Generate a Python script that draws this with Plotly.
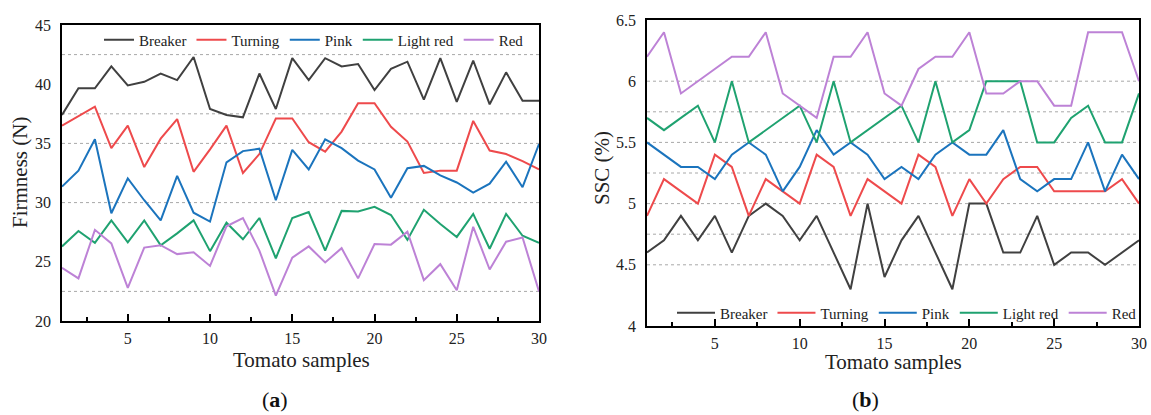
import plotly.graph_objects as go

samples = list(range(1, 31))
series_names = ["Breaker", "Turning", "Pink", "Light red", "Red"]
series_colors = ["#404040", "#ee4a4c", "#1b74bd", "#1fa270", "#bd82d6"]

firm_breaker = [37.4, 39.65, 39.65, 41.5, 39.9, 40.2, 40.9, 40.35, 42.3, 37.9,
                37.4, 37.2, 40.9, 37.9, 42.2, 40.35, 42.2, 41.5, 41.7, 39.5,
                41.3, 41.9, 38.7, 42.2, 38.5, 42.0, 38.3, 41.0, 38.6, 38.6]
firm_turning = [36.5, 37.3, 38.1, 34.6, 36.5, 33.0, 35.4, 37.05, 32.6, 34.5,
                36.5, 32.5, 34.1, 37.1, 37.1, 35.1, 34.3, 36.0, 38.4, 38.4,
                36.4, 35.15, 32.5, 32.7, 32.7, 36.9, 34.4, 34.1, 33.5, 32.8]
firm_pink = [31.35, 32.7, 35.35, 29.1, 32.05, 30.2, 28.5, 32.25, 29.15, 28.4,
             33.4, 34.35, 34.55, 30.2, 34.45, 32.8, 35.35, 34.6, 33.55, 32.8,
             30.4, 32.9, 33.1, 32.3, 31.7, 30.85, 31.6, 33.45, 31.3, 34.95]
firm_lightred = [26.3, 27.6, 26.6, 28.5, 26.65, 28.5, 26.4, 27.4, 28.5, 25.9,
                 28.3, 26.9, 28.7, 25.3, 28.7, 29.2, 25.95, 29.3, 29.25, 29.65,
                 28.95, 26.85, 29.4, 28.2, 27.1, 29.05, 26.1, 29.05, 27.2, 26.6]
firm_red = [24.5, 23.6, 27.7, 26.55, 22.8, 26.2, 26.4, 25.65, 25.8, 24.65,
            28.0, 28.7, 25.95, 22.15, 25.35, 26.3, 24.95, 26.15, 23.6, 26.5,
            26.45, 27.55, 23.45, 24.8, 22.6, 27.95, 24.35, 26.7, 27.05, 22.5]

ssc_breaker = [4.6, 4.7, 4.9, 4.7, 4.9, 4.6, 4.9, 5.0, 4.9, 4.7,
               4.9, 4.6, 4.3, 5.0, 4.4, 4.7, 4.9, 4.6, 4.3, 5.0,
               5.0, 4.6, 4.6, 4.9, 4.5, 4.6, 4.6, 4.5, 4.6, 4.7]
ssc_turning = [4.9, 5.2, 5.1, 5.0, 5.4, 5.3, 4.9, 5.2, 5.1, 5.0,
               5.4, 5.3, 4.9, 5.2, 5.1, 5.0, 5.4, 5.3, 4.9, 5.2,
               5.0, 5.2, 5.3, 5.3, 5.1, 5.1, 5.1, 5.1, 5.2, 5.0]
ssc_pink = [5.5, 5.4, 5.3, 5.3, 5.2, 5.4, 5.5, 5.4, 5.1, 5.3,
            5.6, 5.4, 5.5, 5.4, 5.2, 5.3, 5.2, 5.4, 5.5, 5.4,
            5.4, 5.6, 5.2, 5.1, 5.2, 5.2, 5.5, 5.1, 5.4, 5.2]
ssc_lightred = [5.7, 5.6, 5.7, 5.8, 5.5, 6.0, 5.5, 5.6, 5.7, 5.8,
                5.5, 6.0, 5.5, 5.6, 5.7, 5.8, 5.5, 6.0, 5.5, 5.6,
                6.0, 6.0, 6.0, 5.5, 5.5, 5.7, 5.8, 5.5, 5.5, 5.9]
ssc_red = [6.2, 6.4, 5.9, 6.0, 6.1, 6.2, 6.2, 6.4, 5.9, 5.8,
           5.7, 6.2, 6.2, 6.4, 5.9, 5.8, 6.1, 6.2, 6.2, 6.4,
           5.9, 5.9, 6.0, 6.0, 5.8, 5.8, 6.4, 6.4, 6.4, 6.0]

firm_series = [firm_breaker, firm_turning, firm_pink, firm_lightred, firm_red]
ssc_series = [ssc_breaker, ssc_turning, ssc_pink, ssc_lightred, ssc_red]

firm_grid = [22.5, 30, 35, 37.5, 42.5]
ssc_grid = [4.5, 4.75, 5.0, 5.25, 5.5, 5.75, 6.0]

FONT = "Liberation Serif"

fig = go.Figure()
for name, color, yl, yr in zip(series_names, series_colors, firm_series, ssc_series):
    fig.add_trace(go.Scatter(x=samples, y=yl, mode="lines", name=name,
                             line=dict(color=color, width=2),
                             xaxis="x", yaxis="y", legend="legend"))
    fig.add_trace(go.Scatter(x=samples, y=yr, mode="lines", name=name,
                             line=dict(color=color, width=2),
                             xaxis="x2", yaxis="y2", legend="legend2"))

shapes = []
for g in firm_grid:
    shapes.append(dict(type="line", xref="x domain", yref="y", x0=0, x1=1, y0=g, y1=g,
                       line=dict(color="#a8a8a8", width=1, dash="dot"), layer="below"))
for g in ssc_grid:
    shapes.append(dict(type="line", xref="x2 domain", yref="y2", x0=0, x1=1, y0=g, y1=g,
                       line=dict(color="#a8a8a8", width=1, dash="dot"), layer="below"))

W, H = 1151, 415

def xaxis_cfg(domain, anchor):
    return dict(domain=domain, range=[1, 30], tickmode="linear", tick0=0, dtick=5,
                anchor=anchor, automargin=False,
                showline=True, linecolor="black", linewidth=1.5, mirror=True,
                ticks="inside", ticklen=7, tickwidth=1.5, tickcolor="black",
                minor=dict(ticks="inside", dtick=2.5, tick0=0, ticklen=4, tickwidth=1.5, tickcolor="black"),
                showgrid=False, zeroline=False,
                tickfont=dict(family=FONT, size=16, color="#222"), ticklabelstandoff=2)

def yaxis_cfg(domain, rng, dtick, anchor):
    return dict(domain=domain, range=rng, tickmode="linear", tick0=rng[0], dtick=dtick,
                showline=True, linecolor="black", linewidth=1.5, mirror=True,
                ticks="", showgrid=False, zeroline=False, anchor=anchor, automargin=False,
                tickfont=dict(family=FONT, size=16, color="#222"), ticklabelstandoff=6)

def label(text, x, y, size=21, angle=0, color="#222"):
    return dict(text=text, xref="paper", yref="paper", x=x / W, y=1 - y / H,
                xanchor="center", yanchor="middle", textangle=angle,
                showarrow=False, font=dict(family=FONT, size=size, color=color))

fig.update_layout(
    template="none",
    width=W, height=H,
    margin=dict(l=0, r=0, t=0, b=0, autoexpand=False),
    paper_bgcolor="white", plot_bgcolor="white",
    font=dict(family=FONT, color="#222"),
    xaxis=xaxis_cfg([62 / W, 539 / W], "y"),
    yaxis=yaxis_cfg([1 - 321 / H, 1 - 25 / H], [20, 45], 5, "x"),
    xaxis2=xaxis_cfg([647 / W, 1139 / W], "y2"),
    yaxis2=yaxis_cfg([1 - 326 / H, 1 - 20 / H], [4, 6.5], 0.5, "x2"),
    shapes=shapes,
    legend=dict(orientation="h", x=99 / W, xanchor="left", y=1 - 40 / H, yanchor="middle",
                bgcolor="rgba(0,0,0,0)", font=dict(family=FONT, size=15, color="#222"),
                itemwidth=30, tracegroupgap=0),
    legend2=dict(orientation="h", x=672 / W, xanchor="left", y=1 - 313 / H, yanchor="middle",
                 bgcolor="rgba(0,0,0,0)", font=dict(family=FONT, size=15, color="#222"),
                 itemwidth=38, tracegroupgap=0),
    annotations=[
        label("Tomato samples", 301, 360),
        label("Tomato samples", 893, 362),
        label("Firmness (N)", 20, 173, angle=-90),
        label("SSC (%)", 602, 168, angle=-90),
        label("(<b>a</b>)", 275, 399, size=22, color="#111"),
        label("(<b>b</b>)", 865, 399, size=22, color="#111"),
    ],
)

fig.write_html("out.html", config={"displayModeBar": False},
               post_script="document.body.style.margin='0px';")
